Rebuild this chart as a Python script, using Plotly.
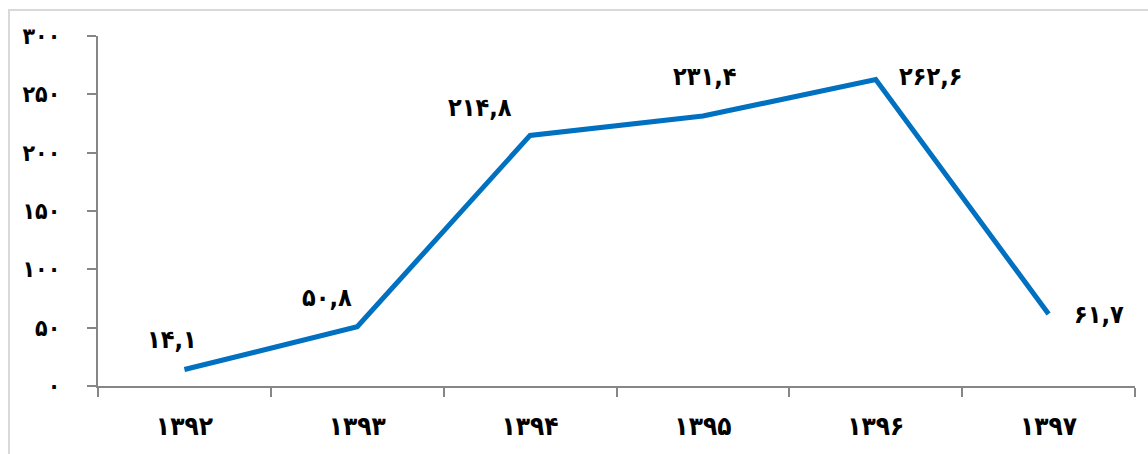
import plotly.graph_objects as go

years = ["1392", "1393", "1394", "1395", "1396", "1397"]
values = [14.1, 50.8, 214.8, 231.4, 262.6, 61.7]
y_ticks = [0, 50, 100, 150, 200, 250, 300]

FA = str.maketrans("0123456789.", "۰۱۲۳۴۵۶۷۸۹,")
def fa(s):
    return str(s).translate(FA)

cats = [fa(y) for y in years]
labels = [fa(f"{v:.1f}") for v in values]

# label offsets (pixels) relative to each point
shifts = [(-12, 30), (-30, 29), (-50, 28), (2, 40), (55, 3), (50, 0)]

FONT = "DejaVu Sans Condensed, DejaVu Sans"
fig = go.Figure()
fig.add_trace(go.Scatter(
    x=cats, y=values, mode="lines",
    line=dict(color="#0070C0", width=5),
    hoverinfo="skip",
))

for c, v, t, (dx, dy) in zip(cats, values, labels, shifts):
    fig.add_annotation(x=c, y=v, text=f"<b>{t}</b>", showarrow=False,
                       xshift=dx, yshift=dy,
                       font=dict(family=FONT, size=25, color="#000000"))

fig.add_shape(type="rect", xref="paper", yref="paper",
              x0=-0.0858, x1=1.2, y0=-0.4, y1=1.0743,
              line=dict(color="#d9d9d9", width=2), layer="below")

fig.update_layout(
    width=1148, height=454,
    margin=dict(l=98, r=13, t=36, b=68),
    paper_bgcolor="white", plot_bgcolor="white",
    showlegend=False,
    xaxis=dict(
        type="category", range=[-0.5, 5.5], tickson="boundaries",
        showline=True, linecolor="#868686", linewidth=2,
        ticks="outside", ticklen=9, tickcolor="#868686", tickwidth=2,
        showgrid=False, zeroline=False,
        tickfont=dict(family=FONT, size=26, color="#000000"),
        ticklabelstandoff=16,
    ),
    yaxis=dict(
        range=[0, 300], tickvals=y_ticks,
        ticktext=[f"<b>{fa(t)}</b>" for t in y_ticks],
        showline=True, linecolor="#868686", linewidth=2,
        ticks="outside", ticklen=9, tickcolor="#868686", tickwidth=2,
        showgrid=False, zeroline=False,
        tickfont=dict(family=FONT, size=23, color="#000000"),
        ticklabelstandoff=22,
    ),
)
fig.update_xaxes(ticktext=[f"<b>{c}</b>" for c in cats], tickvals=cats)

fig.write_html("out.html")
